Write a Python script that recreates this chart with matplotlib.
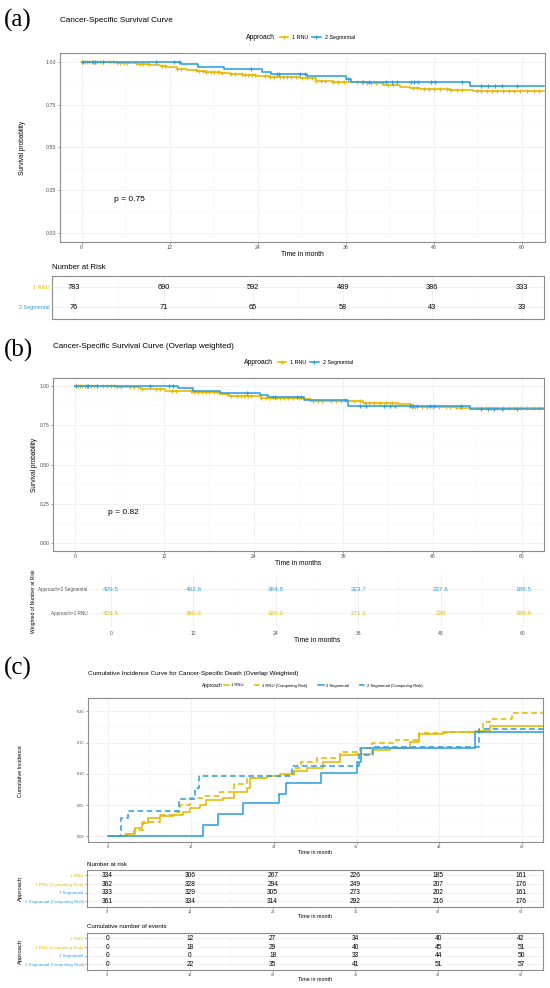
import numpy as np
import matplotlib.pyplot as plt
from matplotlib.lines import Line2D
from matplotlib.ticker import MultipleLocator

plt.rcParams['font.family'] = ['Liberation Sans', 'DejaVu Sans']

# ============== data ==============
YEL = '#E7B800'
BLU = '#2E9FDF'
T_END = 63.0

risk_times = [0, 12, 24, 36, 48, 60]

# (a) Kaplan-Meier, unweighted
a_rnu_t = [0, 2.5, 4.8, 6.1, 7.5, 9.3, 10.7, 11.6, 13.0, 14.3, 15.7, 17.0, 18.9, 20.2,
           22.0, 23.8, 25.7, 27.5, 29.8, 32.0, 34.3, 36.6, 38.9, 41.1, 43.4, 44.8,
           46.1, 50.2, 53.4, 57.0, 59.0]
a_rnu_s = [1.0, 0.998, 0.994, 0.991, 0.985, 0.981, 0.977, 0.967, 0.959, 0.952, 0.944,
           0.940, 0.934, 0.928, 0.924, 0.917, 0.913, 0.909, 0.903, 0.889, 0.884, 0.880,
           0.874, 0.866, 0.854, 0.845, 0.839, 0.835, 0.831, 0.829, 0.827]
a_seg_t = [0, 13.6, 15.8, 19.4, 24.6, 25.8, 30.7, 36.0, 36.7, 53.0]
a_seg_s = [1.0, 0.988, 0.971, 0.957, 0.942, 0.928, 0.915, 0.900, 0.882, 0.860]

rnu_cens = [0.1, 0.4, 0.7, 1.0, 1.4, 1.8, 2.1, 2.5, 2.9, 3.8, 4.3, 4.8, 5.2, 5.7, 6.2,
            7.4, 7.9, 8.4, 9.0, 10.9, 11.4, 13.0, 13.5, 15.6, 16.0, 16.5, 17.0, 17.6,
            18.0, 18.6, 19.1, 20.4, 20.9, 21.8, 22.3, 22.7, 23.2, 23.6, 25.0, 25.7,
            26.2, 27.0, 27.5, 28.0, 28.6, 29.2, 30.0, 30.7, 31.4, 32.0, 32.6, 33.2,
            34.3, 35.0, 35.7, 37.5, 38.2, 38.9, 39.5, 40.1, 40.9, 41.7, 42.5, 45.2,
            45.7, 46.6, 47.3, 48.0, 48.9, 49.8, 50.4, 51.1, 51.8, 53.9, 54.5, 55.2,
            55.9, 56.6, 57.5, 58.2, 58.9, 59.8, 60.7, 61.6, 62.3]
seg_cens = [0.2, 1.6, 1.8, 2.9, 10.1, 12.6, 13.2, 23.1, 26.6, 26.9, 29.8, 30.4, 36.3,
            38.3, 39.1, 41.5, 42.3, 43.0, 44.9, 45.3, 45.9, 47.6, 48.2, 51.8, 54.5,
            55.4, 56.3, 57.3, 59.3]

a_risk_rnu = [783, 690, 592, 489, 386, 333]
a_risk_seg = [76, 71, 65, 58, 43, 33]

# (b) Kaplan-Meier, overlap weighted
b_rnu_t = [0, 3.0, 5.5, 8.8, 12.1, 15.9, 19.5, 20.7, 24.9, 27.7, 30.8, 31.5, 36.7,
           38.6, 43.3, 45.2, 51.3, 53.2]
b_rnu_s = [1.0, 0.997, 0.990, 0.981, 0.968, 0.960, 0.947, 0.932, 0.924, 0.920, 0.914,
           0.905, 0.901, 0.890, 0.882, 0.867, 0.861, 0.857]
b_seg_t = [0, 13.8, 15.9, 19.5, 24.8, 25.9, 30.8, 36.7, 53.0]
b_seg_s = [1.0, 0.983, 0.966, 0.956, 0.939, 0.926, 0.909, 0.873, 0.850]

b_risk_seg = [429.5, 402.6, 364.8, 323.7, 237.6, 189.5]
b_risk_rnu = [429.5, 380.3, 326.9, 271.2, 220, 188.6]

# (c) cumulative incidence, overlap weighted
c_rnu_t = [0, 2.7, 3.9, 4.9, 5.8, 7.5, 9.5, 10.9, 11.9, 13.3, 14.2, 16.7, 18.2, 20.1,
           20.6, 23.0, 24.9, 26.9, 28.8, 31.2, 33.6, 36.0, 38.2, 40.9, 43.8, 45.0,
           48.6, 53.2, 55.4]
c_rnu_ci = [0, 0.003, 0.014, 0.021, 0.029, 0.032, 0.034, 0.039, 0.046, 0.050, 0.058,
            0.062, 0.071, 0.077, 0.093, 0.096, 0.100, 0.105, 0.110, 0.119, 0.130,
            0.132, 0.138, 0.142, 0.151, 0.164, 0.167, 0.169, 0.176]
c_rnu_cr_t = [0, 2.0, 3.7, 5.1, 7.5, 9.5, 10.4, 11.9, 13.8, 16.2, 18.2, 20.1, 23.0,
              25.4, 26.9, 28.0, 30.2, 33.6, 36.5, 38.2, 41.8, 45.0, 49.6, 54.4, 55.4,
              58.5]
c_rnu_cr_ci = [0, 0.003, 0.010, 0.023, 0.034, 0.039, 0.050, 0.061, 0.064, 0.071,
               0.083, 0.093, 0.096, 0.098, 0.109, 0.119, 0.125, 0.135, 0.142, 0.149,
               0.154, 0.165, 0.167, 0.183, 0.187, 0.198]
c_seg_t = [0, 13.7, 15.9, 19.5, 24.7, 25.8, 30.8, 36.1, 36.7, 53.2]
c_seg_ci = [0, 0.018, 0.036, 0.054, 0.067, 0.086, 0.102, 0.119, 0.141, 0.167]
c_seg_cr_t = [0, 1.9, 2.8, 10.3, 12.6, 13.2, 26.7, 36.3, 38.4, 53.7]
c_seg_cr_ci = [0, 0.029, 0.041, 0.060, 0.078, 0.096, 0.113, 0.130, 0.143, 0.171]

c_groups = ['1 RNU', '1 RNU (Competing Risk)', '2 Segmental', '2 Segmental (Competing Risk)']
c_colors = [YEL, YEL, BLU, BLU]
c_risk = [[334, 306, 267, 226, 185, 161],
          [362, 328, 294, 249, 207, 176],
          [333, 329, 305, 273, 202, 161],
          [361, 334, 314, 292, 216, 176]]
c_events = [[0, 12, 27, 34, 40, 42],
            [0, 18, 29, 40, 45, 51],
            [0, 0, 18, 33, 44, 50],
            [0, 22, 35, 41, 51, 57]]

# ============== layout helpers (pixel coordinates) ==============
W, H = 550, 988
GRID = '#EBEBEB'
BORDER = '#8C8C8C'
TICKC = '#4D4D4D'
LW = 1.15

fig = plt.figure(figsize=(W / 100, H / 100), dpi=100)


def add_ax(l, t, r, b):
    return fig.add_axes([l / W, 1 - b / H, (r - l) / W, (b - t) / H])


def ftext(x, y, s, **kw):
    return fig.text(x / W, 1 - y / H, s, **kw)


def style(ax, xlim, ylim, fs, border=True, ticklen=1.5):
    ax.set_xlim(*xlim)
    ax.set_ylim(*ylim)
    ax.set_xticks(risk_times)
    ax.xaxis.set_minor_locator(MultipleLocator(6))
    ax.grid(True, which='major', color=GRID, lw=0.5)
    ax.grid(True, which='minor', color='#F4F4F4', lw=0.35)
    ax.set_axisbelow(True)
    ax.tick_params(which='major', length=ticklen, width=0.4, pad=1, labelsize=fs,
                   colors=TICKC)
    ax.tick_params(which='minor', length=0)
    for sp in ax.spines.values():
        sp.set_visible(border)
        sp.set_color(BORDER)
        sp.set_linewidth(0.8)


def km(ax, t, s, cens, color):
    t = np.asarray(t)
    s = np.asarray(s)
    ax.step(np.append(t, T_END), np.append(s, s[-1]), where='post', color=color, lw=LW)
    if cens is not None:
        cs = s[np.searchsorted(t, cens, side='right') - 1]
        ax.plot(cens, cs, '+', color=color, ms=3.2, mew=0.8, ls='none')


def legend_row(x_app, x_leg, y, handles, labels, fs_app, fs, **kw):
    ftext(x_app, y, 'Approach', ha='left', va='center', fontsize=fs_app)
    fig.legend(handles, labels, loc='center left', bbox_to_anchor=(x_leg / W, 1 - y / H),
               ncol=len(handles), frameon=False, fontsize=fs, borderpad=0,
               borderaxespad=0, **kw)


def letter(y, s):
    ftext(4, y, s, ha='left', va='center', fontsize=18, family='Liberation Serif')


km_handles = [Line2D([], [], color=YEL, lw=LW, marker='+', ms=3.2, mew=0.8),
              Line2D([], [], color=BLU, lw=LW, marker='+', ms=3.2, mew=0.8)]

# ============== (a) ==============
letter(20, '(a)')
ftext(60, 21, 'Cancer-Specific Survival Curve', ha='left', va='center', fontsize=5.9)
legend_row(245.8, 279.5, 37.7, km_handles, ['1 RNU', '2 Segmental'], 4.9, 3.9,
           handlelength=1.5, handletextpad=0.85, columnspacing=0.75)

ax = add_ax(60, 52.7, 545, 241.7)
style(ax, (-2.96, 63.16), (-0.049, 1.052), 3.8)
ax.set_yticks([0, 0.25, 0.5, 0.75, 1.0], ['0.00', '0.25', '0.50', '0.75', '1.00'])
ax.yaxis.set_minor_locator(MultipleLocator(0.125))
km(ax, a_rnu_t, a_rnu_s, rnu_cens, YEL)
km(ax, a_seg_t, a_seg_s, seg_cens, BLU)
ax.text(4.4, 0.198, 'p = 0.75', ha='left', va='center', fontsize=6)
ftext(22, 147.5, 'Survival probability', rotation=90, ha='center', va='center', fontsize=4.7)
ftext(302, 254.7, 'Time in month', ha='center', va='center', fontsize=4.9)

ftext(51.8, 267, 'Number at Risk', ha='left', va='center', fontsize=5.6)
axt = add_ax(51.8, 276, 544, 319.3)
style(axt, (-2.98, 63.0), (0.4, 2.565), 4, ticklen=0)
axt.tick_params(axis='x', labelbottom=False, length=0)
axt.set_yticks([2, 1], ['1 RNU', '2 Segmental'])
axt.tick_params(axis='y', length=0, pad=1.5, labelsize=4)
for lab, col in zip(axt.get_yticklabels(), [YEL, BLU]):
    lab.set_color(col)
for x, n1, n2 in zip(risk_times, a_risk_rnu, a_risk_seg):
    axt.text(x, 2, str(n1), ha='center', va='center', fontsize=5.3)
    axt.text(x, 1, str(n2), ha='center', va='center', fontsize=5.3)

# ============== (b) ==============
letter(350, '(b)')
ftext(53, 346, 'Cancer-Specific Survival Curve (Overlap weighted)', ha='left', va='center',
      fontsize=5.8)
legend_row(244, 277.5, 362.7, km_handles, ['1 RNU', '2 Segmental'], 4.9, 3.9,
           handlelength=1.5, handletextpad=0.85, columnspacing=0.75)

ax = add_ax(52.8, 377.7, 544, 551)
style(ax, (-2.98, 62.95), (-0.049, 1.051), 3.6)
ax.set_yticks([0, 0.25, 0.5, 0.75, 1.0], ['0.00', '0.25', '0.50', '0.75', '1.00'])
ax.yaxis.set_minor_locator(MultipleLocator(0.125))
km(ax, b_rnu_t, b_rnu_s, rnu_cens, YEL)
km(ax, b_seg_t, b_seg_s, seg_cens, BLU)
ax.text(4.4, 0.197, 'p = 0.82', ha='left', va='center', fontsize=6)
ftext(34, 465, 'Survival probability', rotation=90, ha='center', va='center', fontsize=4.7)
ftext(298, 563.7, 'Time in months', ha='center', va='center', fontsize=4.9)

axt = add_ax(90, 575, 545, 628)
style(axt, (-3.06, 63.2), (0.4, 2.59), 3.6, border=False, ticklen=0)
axt.set_yticks([2, 1], ['Approach=2 Segmental', 'Approach=1 RNU'])
axt.tick_params(axis='y', length=0, pad=2, labelsize=3.3)
axt.tick_params(axis='x', length=0, pad=2)
for x, n1, n2 in zip(risk_times, b_risk_seg, b_risk_rnu):
    axt.text(x, 2, f'{n1:g}', ha='center', va='center', fontsize=4.6, color=BLU)
    axt.text(x, 1, f'{n2:g}', ha='center', va='center', fontsize=4.6, color=YEL)
ftext(33, 601, 'Weighted of Number at Risk', rotation=90, ha='center', va='center',
      fontsize=3.6)
ftext(317, 640.7, 'Time in months', ha='center', va='center', fontsize=4.9)

# ============== (c) ==============
letter(668, '(c)')
ftext(88, 673.3, 'Cumulative Incidence Curve for Cancer-Specific Death (Overlap Weighted)',
      ha='left', va='center', fontsize=4.6)
c_handles = [Line2D([], [], color=YEL, lw=LW),
             Line2D([], [], color=YEL, lw=LW, dashes=(3.5, 2.2)),
             Line2D([], [], color=BLU, lw=LW),
             Line2D([], [], color=BLU, lw=LW, dashes=(3.5, 2.2))]
legend_row(202.3, 223.5, 685.5, c_handles, c_groups, 3.4, 3.0,
           handlelength=1.3, handletextpad=0.6, columnspacing=2.5)

ax = add_ax(87.7, 698.3, 543, 842)
style(ax, (-2.99, 63.05), (-0.0091, 0.2208), 2.8)
ax.set_yticks([0, 0.05, 0.1, 0.15, 0.2], ['0.00', '0.05', '0.10', '0.15', '0.20'])
ax.yaxis.set_minor_locator(MultipleLocator(0.025))
for t, ci, col, dash in [(c_rnu_t, c_rnu_ci, YEL, None), (c_rnu_cr_t, c_rnu_cr_ci, YEL, (3.5, 2.2)),
                         (c_seg_t, c_seg_ci, BLU, None), (c_seg_cr_t, c_seg_cr_ci, BLU, (3.5, 2.2))]:
    line, = ax.step(np.append(t, T_END), np.append(ci, ci[-1]), where='post', color=col, lw=LW)
    if dash:
        line.set_dashes(dash)
ftext(20.4, 770.8, 'Cumulative Incidence', rotation=90, ha='center', va='center', fontsize=3.9)
ftext(315.5, 852.7, 'Time in month', ha='center', va='center', fontsize=3.9)


def c_table(top, bottom, title, values):
    ftext(87, top - 6, title, ha='left', va='center', fontsize=4.4)
    axt = add_ax(86.7, top, 543, bottom)
    style(axt, (-2.99, 63.2), (0.35, 4.62), 2.7, ticklen=1.2)
    axt.set_yticks([4, 3, 2, 1], c_groups)
    axt.tick_params(axis='y', length=1.2, pad=1, labelsize=3.2)
    for lab, col in zip(axt.get_yticklabels(), c_colors):
        lab.set_color(col)
    for row, vals in zip([4, 3, 2, 1], values):
        for x, v in zip(risk_times, vals):
            axt.text(x, row, str(v), ha='center', va='center', fontsize=4.8)
    ftext(20.7, (top + bottom) / 2, 'Approach', rotation=90, ha='center', va='center',
          fontsize=4.2)
    ftext(315.5, bottom + 9, 'Time in month', ha='center', va='center', fontsize=3.9)


c_table(870, 907, 'Number at risk', c_risk)
c_table(933, 970, 'Cumulative number of events', c_events)

fig.savefig('out.png', dpi=100, facecolor='white')
